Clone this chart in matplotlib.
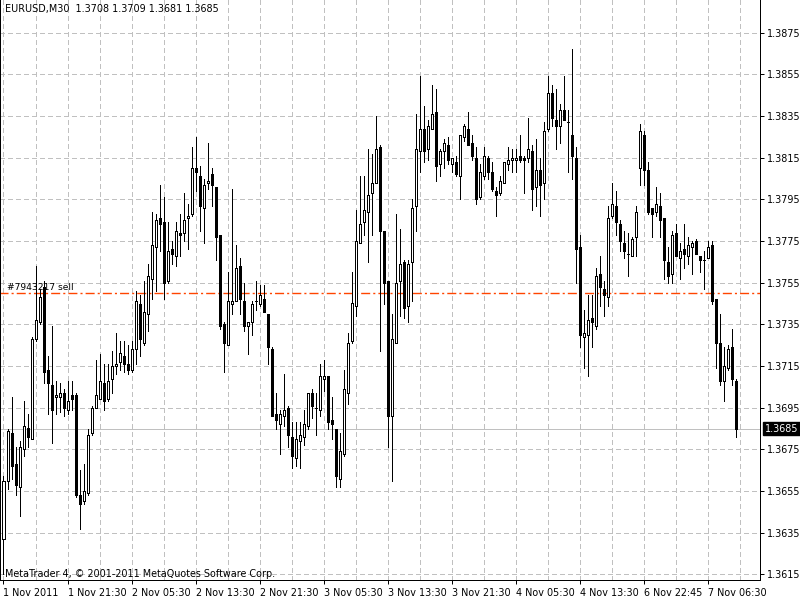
import matplotlib
matplotlib.use("Agg")
import matplotlib.pyplot as plt
import numpy as np

# EURUSD M30 bars (open, high, low, close)
opens = [
    1.3632, 1.3660, 1.3683, 1.3668, 1.3657, 1.3675, 1.3685, 1.3680, 1.3728, 1.3736,
    1.3753, 1.3713, 1.3706, 1.3700, 1.3700, 1.3702, 1.3694, 1.3701, 1.3701, 1.3653,
    1.3650, 1.3654, 1.3683, 1.3695, 1.3699, 1.3707, 1.3699, 1.3709, 1.3715, 1.3717,
    1.3720, 1.3716, 1.3713, 1.3723, 1.3745, 1.3726, 1.3740, 1.3757, 1.3772, 1.3786,
    1.3784, 1.3756, 1.3771, 1.3768, 1.3779, 1.3779, 1.3786, 1.3788, 1.3810, 1.3806,
    1.3791, 1.3803, 1.3807, 1.3801, 1.3778, 1.3735, 1.3725, 1.3745, 1.3746, 1.3763,
    1.3746, 1.3734, 1.3736, 1.3746, 1.3745, 1.3747, 1.3740, 1.3723, 1.3692, 1.3687,
    1.3691, 1.3695, 1.3681, 1.3671, 1.3679, 1.3681, 1.3686, 1.3702, 1.3695, 1.3694,
    1.3709, 1.3710, 1.3689, 1.3685, 1.3661, 1.3673, 1.3702, 1.3727, 1.3744, 1.3774,
    1.3784, 1.3789, 1.3798, 1.3803, 1.3820, 1.3780, 1.3756, 1.3691, 1.3726, 1.3756,
    1.3765, 1.3744, 1.3765, 1.3792, 1.3818, 1.3829, 1.3819, 1.3829, 1.3837, 1.3812,
    1.3818, 1.3821, 1.3812, 1.3813, 1.3806, 1.3825, 1.3829, 1.3822, 1.3815, 1.3796,
    1.3806, 1.3815, 1.3808, 1.3799, 1.3798, 1.3803, 1.3812, 1.3814, 1.3814, 1.3816,
    1.3815, 1.3815, 1.3818, 1.3801, 1.3809, 1.3803, 1.3829, 1.3846, 1.3833, 1.3830,
    1.3838, 1.3832, 1.3826, 1.3815, 1.3772, 1.3729, 1.3730, 1.3738, 1.3734, 1.3759,
    1.3752, 1.3748, 1.3787, 1.3792, 1.3783, 1.3774, 1.3769, 1.3768, 1.3777, 1.3810,
    1.3826, 1.3809, 1.3791, 1.3789, 1.3792, 1.3786, 1.3765, 1.3759, 1.3779, 1.3767,
    1.3771, 1.3768, 1.3772, 1.3775, 1.3768, 1.3766, 1.3767, 1.3773, 1.3747, 1.3726,
    1.3708, 1.3714, 1.3724, 1.3708,
]
highs = [
    1.3662, 1.3685, 1.3700, 1.3676, 1.3679, 1.3698, 1.3692, 1.3729, 1.3763, 1.3752,
    1.3756, 1.3720, 1.3734, 1.3708, 1.3707, 1.3704, 1.3708, 1.3708, 1.3702, 1.3665,
    1.3668, 1.3685, 1.3696, 1.3718, 1.3721, 1.3716, 1.3716, 1.3722, 1.3731, 1.3727,
    1.3727, 1.3725, 1.3727, 1.3751, 1.3749, 1.3756, 1.3764, 1.3789, 1.3788, 1.3802,
    1.3796, 1.3784, 1.3775, 1.3784, 1.3788, 1.3798, 1.3793, 1.3820, 1.3825, 1.3811,
    1.3805, 1.3822, 1.3810, 1.3801, 1.3778, 1.3736, 1.3760, 1.3800, 1.3773, 1.3767,
    1.3755, 1.3736, 1.3746, 1.3756, 1.3754, 1.3754, 1.3740, 1.3724, 1.3702, 1.3694,
    1.3711, 1.3696, 1.3688, 1.3688, 1.3688, 1.3694, 1.3702, 1.3704, 1.3702, 1.3716,
    1.3718, 1.3710, 1.3700, 1.3685, 1.3683, 1.3713, 1.3731, 1.3760, 1.3790, 1.3806,
    1.3806, 1.3819, 1.3817, 1.3835, 1.3821, 1.3780, 1.3756, 1.3740, 1.3788, 1.3781,
    1.3766, 1.3766, 1.3795, 1.3836, 1.3854, 1.3840, 1.3833, 1.3850, 1.3848, 1.3819,
    1.3824, 1.3825, 1.3815, 1.3816, 1.3826, 1.3831, 1.3837, 1.3826, 1.3820, 1.3812,
    1.3820, 1.3816, 1.3813, 1.3801, 1.3806, 1.3813, 1.3820, 1.3819, 1.3819, 1.3826,
    1.3816, 1.3834, 1.3821, 1.3824, 1.3815, 1.3832, 1.3854, 1.3850, 1.3848, 1.3841,
    1.3854, 1.3838, 1.3867, 1.3820, 1.3778, 1.3742, 1.3749, 1.3749, 1.3762, 1.3768,
    1.3756, 1.3792, 1.3803, 1.3799, 1.3785, 1.3780, 1.3779, 1.3777, 1.3792, 1.3831,
    1.3828, 1.3813, 1.3791, 1.3801, 1.3798, 1.3786, 1.3772, 1.3780, 1.3783, 1.3774,
    1.3783, 1.3777, 1.3775, 1.3776, 1.3768, 1.3770, 1.3775, 1.3775, 1.3747, 1.3740,
    1.3724, 1.3725, 1.3733, 1.3709,
]
lows = [
    1.3615, 1.3656, 1.3661, 1.3653, 1.3643, 1.3672, 1.3676, 1.3680, 1.3727, 1.3735,
    1.3707, 1.3692, 1.3678, 1.3692, 1.3693, 1.3691, 1.3692, 1.3694, 1.3652, 1.3637,
    1.3649, 1.3653, 1.3682, 1.3695, 1.3699, 1.3694, 1.3698, 1.3702, 1.3711, 1.3713,
    1.3712, 1.3711, 1.3712, 1.3716, 1.3720, 1.3725, 1.3732, 1.3747, 1.3751, 1.3770,
    1.3747, 1.3755, 1.3764, 1.3763, 1.3768, 1.3775, 1.3771, 1.3787, 1.3799, 1.3780,
    1.3774, 1.3800, 1.3792, 1.3766, 1.3733, 1.3712, 1.3725, 1.3740, 1.3746, 1.3740,
    1.3732, 1.3721, 1.3730, 1.3742, 1.3744, 1.3741, 1.3716, 1.3691, 1.3685, 1.3673,
    1.3686, 1.3676, 1.3666, 1.3667, 1.3666, 1.3677, 1.3685, 1.3690, 1.3682, 1.3691,
    1.3703, 1.3685, 1.3680, 1.3657, 1.3657, 1.3672, 1.3697, 1.3726, 1.3739, 1.3774,
    1.3778, 1.3765, 1.3778, 1.3803, 1.3722, 1.3745, 1.3676, 1.3660, 1.3726, 1.3739,
    1.3738, 1.3736, 1.3746, 1.3780, 1.3808, 1.3813, 1.3814, 1.3829, 1.3804, 1.3806,
    1.3810, 1.3812, 1.3808, 1.3806, 1.3795, 1.3823, 1.3821, 1.3814, 1.3793, 1.3795,
    1.3805, 1.3805, 1.3799, 1.3787, 1.3797, 1.3803, 1.3809, 1.3808, 1.3808, 1.3813,
    1.3798, 1.3813, 1.3790, 1.3792, 1.3787, 1.3795, 1.3828, 1.3830, 1.3819, 1.3822,
    1.3833, 1.3808, 1.3805, 1.3755, 1.3724, 1.3714, 1.3710, 1.3724, 1.3733, 1.3744,
    1.3739, 1.3744, 1.3786, 1.3778, 1.3770, 1.3767, 1.3758, 1.3768, 1.3768, 1.3802,
    1.3802, 1.3788, 1.3777, 1.3787, 1.3777, 1.3757, 1.3755, 1.3755, 1.3768, 1.3757,
    1.3762, 1.3764, 1.3759, 1.3769, 1.3760, 1.3752, 1.3767, 1.3745, 1.3714, 1.3706,
    1.3698, 1.3713, 1.3706, 1.3681,
]
closes = [
    1.3660, 1.3684, 1.3667, 1.3658, 1.3676, 1.3686, 1.3681, 1.3728, 1.3737, 1.3748,
    1.3712, 1.3707, 1.3694, 1.3701, 1.3702, 1.3695, 1.3698, 1.3699, 1.3653, 1.3649,
    1.3655, 1.3682, 1.3695, 1.3701, 1.3708, 1.3698, 1.3708, 1.3715, 1.3716, 1.3721,
    1.3716, 1.3713, 1.3723, 1.3746, 1.3728, 1.3741, 1.3758, 1.3773, 1.3785, 1.3783,
    1.3755, 1.3770, 1.3769, 1.3780, 1.3778, 1.3785, 1.3787, 1.3810, 1.3808, 1.3792,
    1.3802, 1.3804, 1.3802, 1.3777, 1.3734, 1.3726, 1.3746, 1.3746, 1.3762, 1.3747,
    1.3734, 1.3736, 1.3745, 1.3746, 1.3749, 1.3741, 1.3724, 1.3691, 1.3689, 1.3692,
    1.3694, 1.3682, 1.3672, 1.3680, 1.3682, 1.3687, 1.3702, 1.3696, 1.3695, 1.3710,
    1.3710, 1.3688, 1.3687, 1.3662, 1.3674, 1.3704, 1.3726, 1.3745, 1.3775, 1.3783,
    1.3790, 1.3797, 1.3803, 1.3819, 1.3780, 1.3755, 1.3691, 1.3728, 1.3755, 1.3764,
    1.3743, 1.3764, 1.3791, 1.3819, 1.3829, 1.3818, 1.3830, 1.3836, 1.3811, 1.3818,
    1.3822, 1.3814, 1.3815, 1.3807, 1.3826, 1.3830, 1.3821, 1.3816, 1.3795, 1.3808,
    1.3816, 1.3808, 1.3800, 1.3797, 1.3804, 1.3813, 1.3814, 1.3815, 1.3815, 1.3814,
    1.3814, 1.3819, 1.3800, 1.3809, 1.3802, 1.3828, 1.3846, 1.3834, 1.3830, 1.3838,
    1.3833, 1.3832, 1.3816, 1.3771, 1.3730, 1.3731, 1.3737, 1.3736, 1.3758, 1.3753,
    1.3749, 1.3786, 1.3793, 1.3784, 1.3775, 1.3770, 1.3769, 1.3776, 1.3789, 1.3828,
    1.3809, 1.3789, 1.3788, 1.3793, 1.3785, 1.3766, 1.3758, 1.3778, 1.3768, 1.3770,
    1.3769, 1.3773, 1.3774, 1.3769, 1.3766, 1.3766, 1.3772, 1.3746, 1.3726, 1.3708,
    1.3715, 1.3723, 1.3709, 1.3685,
]

price_ticks = [1.3875, 1.3855, 1.3835, 1.3815, 1.3795, 1.3775, 1.3755,
               1.3735, 1.3715, 1.3695, 1.3675, 1.3655, 1.3635, 1.3615]
time_labels = ["1 Nov 2011", "1 Nov 21:30", "2 Nov 05:30", "2 Nov 13:30",
               "2 Nov 21:30", "3 Nov 05:30", "3 Nov 13:30", "3 Nov 21:30",
               "4 Nov 05:30", "4 Nov 13:30", "6 Nov 22:45", "7 Nov 06:30"]
label_bars = [0, 16, 32, 48, 64, 80, 96, 112, 128, 144, 160, 176]
bid_price = 1.3685
sell_price = 1.3750
sell_label = "#7943217 sell"
header = "EURUSD,M30  1.3708 1.3709 1.3681 1.3685"
footer = "MetaTrader 4, \u00a9 2001-2011 MetaQuotes Software Corp."

plt.rcParams['font.family'] = ['DejaVu Sans']
plt.rcParams['lines.scale_dashes'] = False
FS = 6.9
PX = 0.72  # one pixel in points at 100 dpi

fig = plt.figure(figsize=[8, 6], dpi=100)
# plot area: 0..760 px across, 0..580 px down
ax = fig.add_axes([0, 1 - 580 / 600, 760 / 800, 580 / 600])

def y2p(y):
    # screen row -> price (1.3775 sits on row 241, 0.0001 = 2.083 px)
    return 1.3775 - (y - 241) * 0.000048

ax.set_xlim(-0.875, 189.125)
ax.set_ylim(y2p(580), y2p(0))

o = np.array(opens); h = np.array(highs); l = np.array(lows); c = np.array(closes)
idx = np.arange(len(o))
up = c > o
dn = c < o
eq = c == o

# grid
for p in price_ticks:
    ax.axhline(p, color='#c0c0c0', lw=PX, dashes=(2.9, 2.2), zorder=1, antialiased=False)
for b in range(0, 190, 8):
    ax.axvline(b, color='#c0c0c0', lw=PX, dashes=(2.9, 2.2), zorder=1, antialiased=False)

# bid line and order line
ax.axhline(bid_price, color='#c0c0c0', lw=PX, zorder=1, antialiased=False)
sell_line, = ax.plot([-1, 190], [sell_price, sell_price], color='#ff4500',
                     lw=1.0, zorder=2, solid_capstyle='butt')
sell_line.set_linestyle((0, (6.5, 2.2, 1.5, 2.2)))
ax.text(7 / 760, sell_price + 0.00005, sell_label, fontsize=FS - 0.3, color='black',
        va='bottom', ha='left', zorder=2, transform=ax.get_yaxis_transform())

# candles
ax.vlines(idx, l, h, colors='black', lw=PX, zorder=3, antialiased=False)
ax.bar(idx[up], (c - o)[up], bottom=o[up], width=0.5, facecolor='white',
       edgecolor='black', linewidth=PX, zorder=4, antialiased=False)
ax.bar(idx[dn], (o - c)[dn], bottom=c[dn], width=0.5, facecolor='black',
       edgecolor='black', linewidth=PX, zorder=4, antialiased=False)
ax.hlines(o[eq], idx[eq] - 0.25, idx[eq] + 0.25, colors='black', lw=PX,
          zorder=4, antialiased=False)

# axes look
for s in ax.spines.values():
    s.set_linewidth(PX)
    s.set_color('black')
ax.spines['top'].set_visible(False)
ax.yaxis.tick_right()
ax.set_yticks(price_ticks)
ax.set_yticklabels(['%.4f' % p for p in price_ticks])
ax.set_xticks(label_bars)
ax.set_xticklabels(time_labels, ha='left')
ax.tick_params(axis='both', length=3, width=PX, labelsize=FS, pad=2, color='black')
ax.tick_params(axis='x', pad=3)

# bid price box
ax.annotate('%.4f' % bid_price, xy=(1.0, bid_price),
            xycoords=ax.get_yaxis_transform(), xytext=(3.5, 0),
            textcoords='offset points', va='center', ha='left', fontsize=FS,
            color='white',
            bbox=dict(boxstyle='square,pad=0.15', fc='black', ec='black'))

fig.text(5 / 800, 1 - 9 / 600, header, fontsize=FS, va='center', ha='left')
fig.text(5 / 800, 1 - 574 / 600, footer, fontsize=FS, va='center', ha='left')

fig.savefig('out.png', dpi=100, facecolor='white')
